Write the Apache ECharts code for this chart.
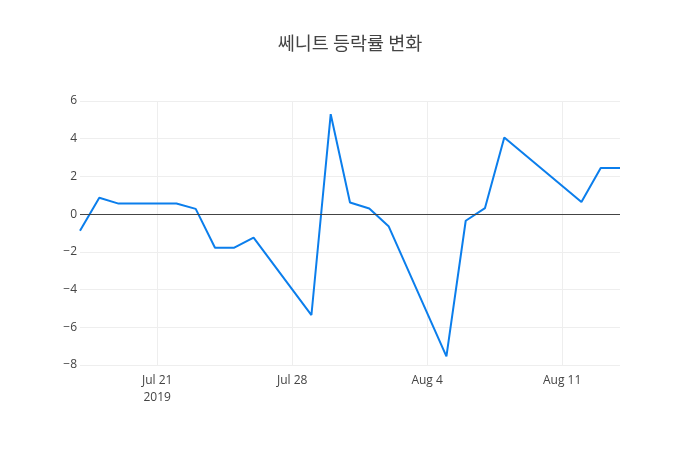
<!DOCTYPE html>
<html><head><meta charset="utf-8">
<script src="https://cdn.jsdelivr.net/npm/echarts@6/dist/echarts.min.js"></script>
<style>html,body{margin:0;padding:0;background:#fff}#c{width:700px;height:450px}</style>
</head><body><div id="c"></div>
<script>
const titleText = '쎄니트 등락률 변화';
const dates = ['2019-07-17','2019-07-18','2019-07-19','2019-07-22','2019-07-23','2019-07-24','2019-07-25','2019-07-26','2019-07-29','2019-07-30','2019-07-31','2019-08-01','2019-08-02','2019-08-05','2019-08-06','2019-08-07','2019-08-08','2019-08-12','2019-08-13','2019-08-14'];
const values = [-0.88,0.87,0.56,0.56,0.28,-1.78,-1.78,-1.25,-5.35,5.30,0.62,0.30,-0.64,-7.54,-0.35,0.32,4.06,0.64,2.45,2.45];
const xTickDates = ['2019-07-21','2019-07-28','2019-08-04','2019-08-11'];
const xTickLabels = ['Jul 21\n2019','Jul 28','Aug 4','Aug 11'];
const yTicks = [-8,-6,-4,-2,0,2,4,6];

// day number (days since 1970-01-01 UTC)
const day = d => { const p = d.split('-').map(Number); return Date.UTC(p[0], p[1]-1, p[2]) / 86400000; };
const xTickDays = xTickDates.map(day);
const labelMap = {};
xTickDays.forEach((t,i)=>{ labelMap[t] = xTickLabels[i]; });

const chart = echarts.init(document.getElementById('c'), null, {renderer:'canvas'});
chart.setOption({
  animation: false,
  backgroundColor: '#fff',
  textStyle: { fontFamily: '"Open Sans", "Noto Sans CJK KR", sans-serif' },
  title: {
    text: titleText, left: 'center', top: 29,
    textStyle: { fontFamily: '"Noto Sans CJK KR", "Open Sans", sans-serif', fontSize: 18.5, fontWeight: 'normal', color: '#444' }
  },
  grid: { left: 80, right: 80, top: 101, bottom: 85, containLabel: false },
  xAxis: {
    type: 'value',
    min: day(dates[0]), max: day(dates[dates.length-1]),
    axisLine: { show: false },
    axisTick: { show: false, customValues: xTickDays },
    axisLabel: {
      customValues: xTickDays, color: '#444', fontSize: 12, margin: 7, lineHeight: 17,
      formatter: v => labelMap[v] !== undefined ? labelMap[v] : ''
    },
    splitLine: { show: true, lineStyle: { color: '#eee', width: 1 } }
  },
  yAxis: {
    type: 'value', min: -8, max: 6, interval: 2,
    axisLine: { show: false }, axisTick: { show: false },
    axisLabel: { color: '#444', fontSize: 12, margin: 3, formatter: v => (v < 0 ? '\u2212' + Math.abs(v) : String(v)) },
    splitLine: { show: true, lineStyle: { color: '#eee', width: 1 } }
  },
  series: [{
    type: 'line',
    data: dates.map((d,i)=>[day(d), values[i]]),
    showSymbol: false, symbol: 'none',
    lineStyle: { color: '#0b7eec', width: 2 },
    itemStyle: { color: '#0b7eec' },
    markLine: {
      silent: true, symbol: 'none', label: { show: false },
      lineStyle: { color: '#444', width: 1, type: 'solid' },
      data: [{ yAxis: 0 }]
    },
    z: 3
  }]
});
</script>
</body></html>
